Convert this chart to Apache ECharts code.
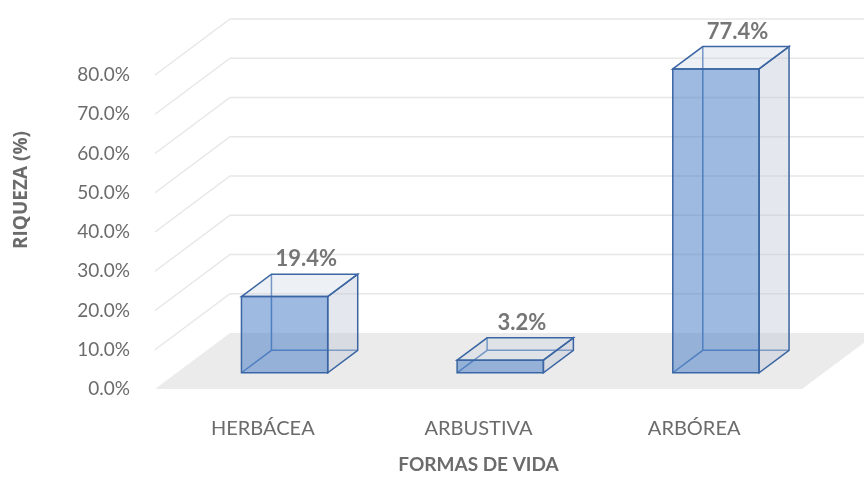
<!DOCTYPE html>
<html>
<head>
<meta charset="utf-8">
<script src="https://cdn.jsdelivr.net/npm/echarts@6/dist/echarts.min.js"></script>
<style>
  html, body { margin: 0; padding: 0; background: #fff; }
  #chart { width: 864px; height: 481px; }
</style>
</head>
<body>
<div id="chart"></div>
<script>
var categories = ['HERBÁCEA', 'ARBUSTIVA', 'ARBÓREA']
var values = [19.4, 3.2, 77.4]
var yTicks = [0, 10, 20, 30, 40, 50, 60, 70, 80]

// profundidad del "3D" (px)
var DX = 75
var DY = -56
var FRONT = 0.29
var BACK = 0.69
var FONT = 'Lato, "Open Sans", sans-serif'

var myChart = echarts.init(document.getElementById('chart'))

// paredes: lineas de la rejilla y piso gris
function renderWall (params, api) {
  var v = api.value(0)
  var cs = params.coordSys
  var y = api.coord([0, v])[1]
  var x0 = cs.x
  var children = []
  if (v === 0) {
    children.push({
      type: 'polygon',
      shape: { points: [[x0, y], [x0 + DX, y + DY], [x0 + cs.width + DX, y + DY], [x0 + cs.width, y]] },
      style: { fill: '#ebebeb' }
    })
  } else {
    children.push({
      type: 'polyline',
      shape: { points: [[x0, y], [x0 + DX, y + DY], [x0 + cs.width + DX + 20, y + DY]] },
      style: { stroke: '#e7e7e7', lineWidth: 1.5, fill: null }
    })
  }
  return { type: 'group', children: children }
}

function renderBar (params, api) {
  var idx = api.value(0)
  var v = api.value(1)
  var base = api.coord([idx, 0])
  var top = api.coord([idx, v])
  var bw = api.size([1, 0])[0] * 0.4
  var x1 = base[0] - bw / 2 + FRONT * DX
  var x2 = x1 + bw
  var yb = base[1] + FRONT * DY
  var yt = top[1] + FRONT * DY
  var dx = (BACK - FRONT) * DX
  var dy = (BACK - FRONT) * DY
  var edge = '#3b66a3'
  var line = function (pts, c) {
    return { type: 'polyline', shape: { points: pts }, style: { stroke: c || edge, lineWidth: 1.5, fill: null } }
  }
  return {
    type: 'group',
    children: [
      // aristas ocultas
      line([[x1, yb], [x1 + dx, yb + dy], [x2 + dx, yb + dy]], '#4f7cbb'),
      line([[x1 + dx, yb + dy], [x1 + dx, yt + dy]], '#4f7cbb'),
      // caras
      {
        type: 'polygon',
        shape: { points: [[x2, yt], [x2 + dx, yt + dy], [x2 + dx, yb + dy], [x2, yb]] },
        style: { fill: 'rgba(190,198,212,0.42)', stroke: edge, lineWidth: 1.5 }
      },
      {
        type: 'polygon',
        shape: { points: [[x1, yt], [x1 + dx, yt + dy], [x2 + dx, yt + dy], [x2, yt]] },
        style: { fill: 'rgba(200,208,222,0.32)', stroke: edge, lineWidth: 1.5 }
      },
      {
        type: 'polygon',
        shape: { points: [[x1, yt], [x2, yt], [x2, yb], [x1, yb]] },
        style: { fill: 'rgba(79,129,199,0.55)', stroke: edge, lineWidth: 1.5 }
      },
      {
        type: 'text',
        style: {
          text: v.toFixed(1) + '%',
          x: (x1 + x2) / 2 + dx * 0.72,
          y: yt + dy - 15,
          align: 'center',
          verticalAlign: 'middle',
          fill: '#767676',
          font: 'bold 22px ' + FONT
        }
      }
    ]
  }
}

var option = {
  animation: false,
  grid: { left: 155, right: 62, top: 75, bottom: 92 },
  xAxis: {
    type: 'category',
    data: categories,
    axisLine: { show: false },
    axisTick: { show: false },
    axisLabel: { margin: 30, color: '#6b6b6b', fontSize: 20, fontFamily: FONT },
    name: 'FORMAS DE VIDA',
    nameLocation: 'middle',
    nameGap: 66,
    nameTextStyle: { color: '#6b6b6b', fontSize: 19, fontWeight: 'bold', fontFamily: FONT }
  },
  yAxis: {
    type: 'value',
    min: 0,
    max: 80,
    interval: 10,
    axisLine: { show: false },
    axisTick: { show: false },
    splitLine: { show: false },
    axisLabel: {
      margin: 25,
      color: '#6b6b6b',
      fontSize: 19,
      fontFamily: FONT,
      formatter: function (v) { return v.toFixed(1) + '%' }
    }
  },
  graphic: [{
    type: 'text',
    x: 22,
    y: 190,
    rotation: Math.PI / 2,
    style: {
      text: 'RIQUEZA (%)',
      align: 'center',
      verticalAlign: 'middle',
      fill: '#6b6b6b',
      font: 'bold 19px "Open Sans", Lato, sans-serif'
    }
  }],
  series: [
    {
      type: 'custom',
      renderItem: renderWall,
      data: yTicks.map(function (t) { return [t] }),
      encode: { y: 0 },
      silent: true,
      z: 1
    },
    {
      type: 'custom',
      renderItem: renderBar,
      data: values.map(function (v, i) { return [i, v] }),
      encode: { x: 0, y: 1 },
      z: 2
    }
  ]
}

myChart.setOption(option)
</script>
</body>
</html>
